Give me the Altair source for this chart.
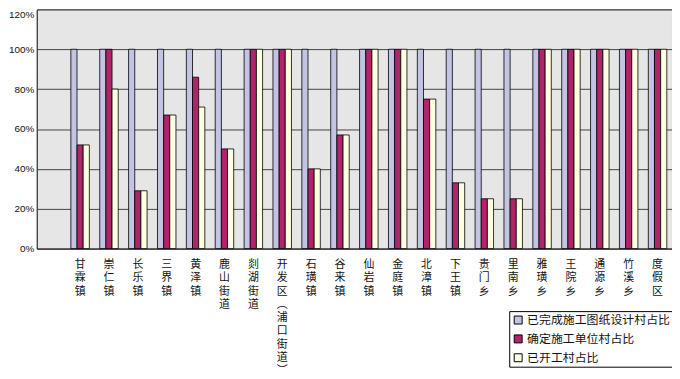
import altair as alt
import pandas as pd

categories = ["甘霖镇", "崇仁镇", "长乐镇", "三界镇", "黄泽镇", "鹿山街道", "剡湖街道",
              "开发区（浦口街道）", "石璜镇", "谷来镇", "仙岩镇", "金庭镇", "北漳镇", "下王镇",
              "贵门乡", "里南乡", "雅璜乡", "王院乡", "通源乡", "竹溪乡", "度假区"]
series_names = ["已完成施工图纸设计村占比", "确定施工单位村占比", "已开工村占比"]
design_done = [1.00, 1.00, 1.00, 1.00, 1.00, 1.00, 1.00, 1.00, 1.00, 1.00, 1.00,
               1.00, 1.00, 1.00, 1.00, 1.00, 1.00, 1.00, 1.00, 1.00, 1.00]
contractor = [0.52, 1.00, 0.29, 0.67, 0.86, 0.50, 1.00, 1.00, 0.40, 0.57, 1.00,
              1.00, 0.75, 0.33, 0.25, 0.25, 1.00, 1.00, 1.00, 1.00, 1.00]
started = [0.52, 0.80, 0.29, 0.67, 0.71, 0.50, 1.00, 1.00, 0.40, 0.57, 1.00,
           1.00, 0.75, 0.33, 0.25, 0.25, 1.00, 1.00, 1.00, 1.00, 1.00]
y_ticks = [0, 0.2, 0.4, 0.6, 0.8, 1.0, 1.2]
colors = ["#c3c3e4", "#b0246a", "#ffffe2"]

rows = []
for name, vals in zip(series_names, [design_done, contractor, started]):
    for c, v in zip(categories, vals):
        rows.append({"cat": c, "series": name, "value": v})
df = pd.DataFrame(rows)

cjk = "Noto Sans CJK SC"

chart = alt.Chart(df).mark_bar(stroke="black", strokeWidth=0.8).encode(
    x=alt.X("cat:N", sort=None,
            scale=alt.Scale(domain=[" "] + categories, paddingInner=0.36, paddingOuter=0.18),
            axis=alt.Axis(title=None, labelAngle=0, labelAlign="center", labelBaseline="top",
                          labelPadding=10, labelFontSize=11, labelLineHeight=13.4,
                          labelFont=cjk, labelColor="#111", labelLimit=0, labelOverlap=False,
                          ticks=False, domainColor="#333", domainWidth=1,
                          labelExpr="split(replace(replace(datum.label, '（', '︵'), '）', '︶'), '')")),
    xOffset=alt.XOffset("series:N", sort=series_names,
                        scale=alt.Scale(domain=series_names, paddingInner=0, paddingOuter=0)),
    y=alt.Y("value:Q", scale=alt.Scale(domain=[0, 1.2], nice=False),
            axis=alt.Axis(title=None, values=y_ticks, format=".0%", labelFontSize=10,
                          labelFont="Liberation Sans", labelColor="#111", labelPadding=3,
                          ticks=False, grid=True, gridColor="#444", gridWidth=1,
                          domainColor="#333",
                          labelBaseline={"condition": {"test": "datum.value >= 1.19", "value": "top"},
                                         "value": "middle"})),
    color=alt.Color("series:N", sort=series_names,
                    scale=alt.Scale(domain=series_names, range=colors),
                    legend=alt.Legend(title=None, orient="none", legendX=476, legendY=304,
                                      direction="vertical", symbolType="square", symbolSize=64,
                                      symbolStrokeColor="black", symbolStrokeWidth=1,
                                      labelFontSize=12, labelFont=cjk, labelColor="#111",
                                      labelLimit=0, labelOffset=3, strokeColor="black",
                                      fillColor="white", padding=3, rowPadding=7)),
).properties(
    width=640, height=241,
    autosize=alt.AutoSizeParams(type="none"),
    padding={"left": 29, "top": 0, "right": 0, "bottom": 130},
    background="white",
).configure_view(
    fill="#e6e6e6", stroke="#666", strokeWidth=1
)

chart.save("out.html", embed_options={"renderer": "svg", "actions": False})
